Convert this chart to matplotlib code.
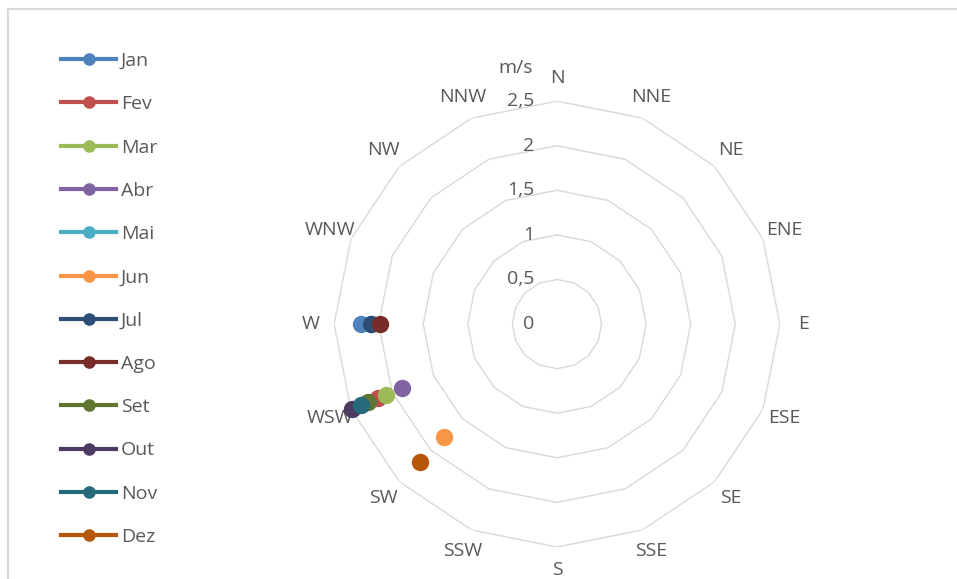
import numpy as np
import matplotlib
matplotlib.use('Agg')
import matplotlib.pyplot as plt
from matplotlib.patches import Rectangle

# rosa dos ventos - velocidade media mensal na direcao predominante
directions = ['N', 'NNE', 'NE', 'ENE', 'E', 'ESE', 'SE', 'SSE',
              'S', 'SSW', 'SW', 'WSW', 'W', 'WNW', 'NW', 'NNW']
months = ['Jan', 'Fev', 'Mar', 'Abr', 'Mai', 'Jun',
          'Jul', 'Ago', 'Set', 'Out', 'Nov', 'Dez']
month_dir = ['W', 'WSW', 'WSW', 'WSW', 'W', 'SW',
             'W', 'W', 'WSW', 'WSW', 'WSW', 'SW']
month_speed = [2.20, 2.17, 2.08, 1.88, 2.09, 1.79,
               2.09, 1.98, 2.29, 2.49, 2.38, 2.18]
rings = [0, 0.5, 1, 1.5, 2, 2.5]
ring_labels = ['0', '0,5', '1', '1,5', '2', '2,5']

colors = ['#4F81BD', '#C0504D', '#9BBB59', '#8064A2', '#4BACC6', '#F79646',
          '#2C4D75', '#772C2A', '#5F7530', '#4D3B62', '#276A7C', '#B65708']

txt = '#595959'
grid = '#D9D9D9'
fs = 14
plt.rcParams['font.family'] = ['Open Sans', 'DejaVu Sans']

fig = plt.figure(figsize=(9.57, 5.79), dpi=100)
fig.patches.append(Rectangle((8 / 957, -0.1), 1.2, 1 - 9 / 579 + 0.1,
                             transform=fig.transFigure, fill=False,
                             edgecolor=grid, lw=1.5))

ax = fig.add_axes([0.349, 0.0553, 0.466, 0.770], projection='polar')
ax.set_theta_zero_location('N')
ax.set_theta_direction(-1)
ax.set_ylim(0, 2.5)
ax.grid(False)
ax.spines['polar'].set_visible(False)
ax.set_xticks([])
ax.set_yticks([])
ax.patch.set_alpha(0)

n = len(directions)
theta = np.arange(n) * 2 * np.pi / n
theta_closed = np.append(theta, theta[0])

# aneis poligonais
for r in rings[1:]:
    ax.plot(theta_closed, [r] * (n + 1), color=grid, lw=1, zorder=1)

for r, lab in zip(rings, ring_labels):
    ax.annotate(lab, (0, r), xytext=(-23, 0), textcoords='offset pixels',
                ha='right', va='center', color=txt, fontsize=fs)
ax.annotate('m/s', (0, 2.5), xytext=(-24, 33), textcoords='offset pixels',
            ha='right', va='center', color=txt, fontsize=fs)

for t, d in zip(theta, directions):
    ax.text(t, 2.76, d, ha='center', va='center', color=txt, fontsize=fs)

handles = []
for m, d, v, c in zip(months, month_dir, month_speed, colors):
    t = theta[directions.index(d)]
    h, = ax.plot([t], [v], '-o', color=c, lw=3, ms=11.5, label=m,
                 clip_on=False, zorder=3)
    handles.append(h)

leg = fig.legend(handles=handles, loc='upper left',
                 bbox_to_anchor=(61 / 957, 1 - 52 / 579), frameon=False,
                 fontsize=fs, labelspacing=1.30, handlelength=2.83,
                 handletextpad=0.25, borderpad=0, borderaxespad=0,
                 markerscale=0.7)
for t in leg.get_texts():
    t.set_color(txt)

fig.savefig('out.png', dpi=100)
